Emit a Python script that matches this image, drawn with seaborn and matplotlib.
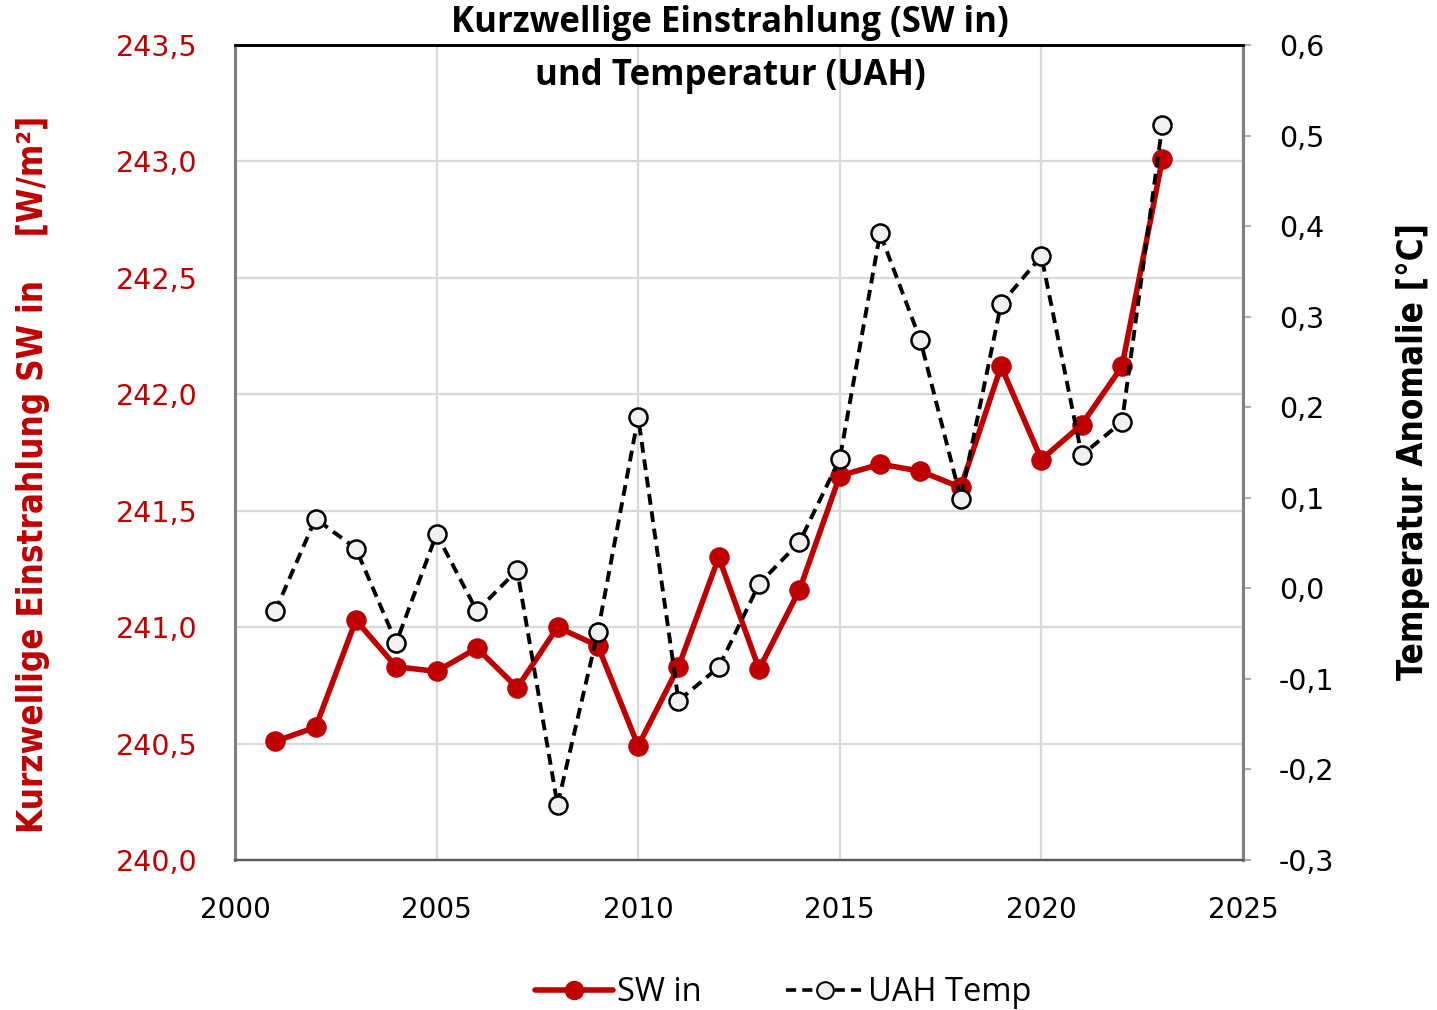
import matplotlib
matplotlib.use("Agg")
import matplotlib.pyplot as plt
from matplotlib.ticker import FuncFormatter, MultipleLocator
from matplotlib.lines import Line2D
import seaborn as sns
import pandas as pd

years = list(range(2001, 2024))
sw_in = [240.51, 240.57, 241.03, 240.83, 240.81, 240.91, 240.74, 241.00, 240.92, 240.49,
         240.83, 241.30, 240.82, 241.16, 241.65, 241.70, 241.67, 241.60, 242.12, 241.72,
         241.87, 242.12, 243.01]
uah_temp = [-0.025, 0.077, 0.044, -0.060, 0.060, -0.025, 0.020, -0.239, -0.048, 0.189,
            -0.124, -0.087, 0.005, 0.051, 0.143, 0.392, 0.274, 0.099, 0.314, 0.367,
            0.147, 0.184, 0.512]

df = pd.DataFrame({"Jahr": years, "SW in": sw_in, "UAH Temp": uah_temp})

sns.set_theme(style="white")
plt.rcParams["font.family"] = ["Open Sans", "DejaVu Sans"]
plt.rcParams["text.color"] = "black"

RED = "#C00000"
DASH = (0, (2.8, 1.7))
fig = plt.figure(figsize=(14.37, 10.10), dpi=100)
ax = fig.add_axes([0.1635, 0.1485, 0.7015, 0.8069])
ax2 = ax.twinx()

sns.lineplot(data=df, x="Jahr", y="SW in", ax=ax, color=RED, linewidth=4.0,
             marker="o", markersize=14, markeredgecolor=RED, markerfacecolor=RED,
             zorder=3)
sns.lineplot(data=df, x="Jahr", y="UAH Temp", ax=ax2, color="black", linewidth=2.8,
             linestyle=DASH, marker="o", markersize=13,
             markeredgecolor="black", markeredgewidth=1.8, markerfacecolor="#F0F0F0",
             zorder=3)

comma = lambda v, p: f"{v:.1f}".replace(".", ",")

ax.set_xlim(2000, 2025)
ax.set_ylim(240.0, 243.5)
ax.yaxis.set_major_locator(MultipleLocator(0.5))
ax.xaxis.set_major_locator(MultipleLocator(5))
ax.yaxis.set_major_formatter(FuncFormatter(comma))
ax2.set_ylim(-0.3, 0.6)
ax2.yaxis.set_major_locator(MultipleLocator(0.1))
ax2.yaxis.set_major_formatter(FuncFormatter(comma))

ax.grid(True, color="#D9D9D9", linewidth=1.6)
ax.set_axisbelow(True)
ax.tick_params(axis="x", labelsize=20, colors="black", length=0, pad=26)
ax.tick_params(axis="y", labelsize=20.5, labelcolor=RED, length=0, pad=27)
ax2.tick_params(axis="y", labelsize=20.5, labelcolor="black", color="#A0A0A0",
                length=6, width=1.2, direction="out", pad=20)
for lab in ax.get_xticklabels() + ax.get_yticklabels() + ax2.get_yticklabels():
    lab.set_family("DejaVu Sans")

for a in (ax, ax2):
    a.spines["top"].set_color("black")
    a.spines["top"].set_linewidth(2.0)
    a.spines["left"].set_color("#808080")
    a.spines["left"].set_linewidth(2.2)
    a.spines["right"].set_color("#808080")
    a.spines["right"].set_linewidth(2.2)
    a.spines["bottom"].set_color("#595959")
    a.spines["bottom"].set_linewidth(1.6)

ax.set_xlabel("")
ax.set_ylabel("")
ax2.set_ylabel("")

fig.text(0.023, 0.530, "Kurzwellige Einstrahlung SW in    [W/m²]", rotation=90,
         ha="center", va="center", color=RED, fontsize=25, fontweight="bold",
         family="DejaVu Sans", fontstretch="condensed")
fig.text(0.983, 0.5525, "Temperatur Anomalie [°C]", rotation=90,
         ha="center", va="center", color="black", fontsize=25, fontweight="bold",
         family="DejaVu Sans", fontstretch="condensed")

fig.text(0.508, 0.977, "Kurzwellige Einstrahlung (SW in)", ha="center", va="center",
         fontsize=25, fontweight="bold", color="black")
fig.text(0.508, 0.925, "und Temperatur (UAH)", ha="center", va="center",
         fontsize=25, fontweight="bold", color="black")

handles = [
    Line2D([], [], color=RED, linewidth=4.0, marker="o", markersize=13,
           markerfacecolor=RED, markeredgecolor=RED),
    Line2D([], [], color="black", linewidth=2.6, linestyle=DASH, marker="o",
           markersize=12, markerfacecolor="#F0F0F0", markeredgecolor="black",
           markeredgewidth=1.5),
]
fig.legend(handles, ["SW in", "UAH Temp"], loc="center", bbox_to_anchor=(0.545, 0.017),
           ncol=2, frameon=False, fontsize=23.5, handlelength=2.4, handletextpad=0.1,
           columnspacing=2.6)

fig.savefig("out.png", dpi=100)
